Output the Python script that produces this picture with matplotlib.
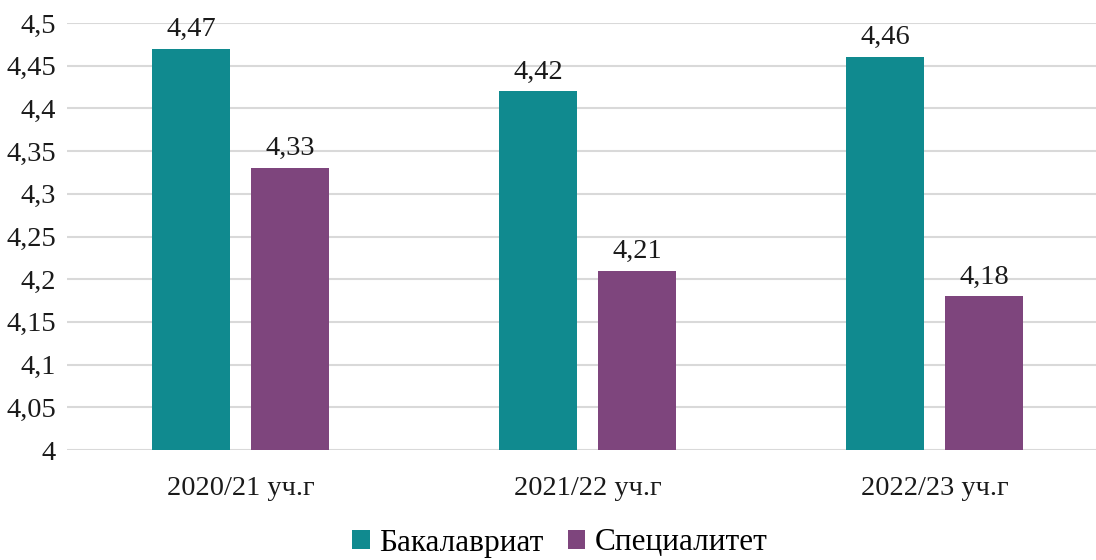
import numpy as np
import matplotlib.pyplot as plt
from matplotlib.ticker import MultipleLocator, FuncFormatter

plt.rcParams['font.family'] = ['Liberation Serif', 'DejaVu Serif']

categories = ['2020/21 уч.г', '2021/22 уч.г', '2022/23 уч.г']
series_names = ['Бакалавриат', 'Специалитет']
bachelor = [4.47, 4.42, 4.46]
specialist = [4.33, 4.21, 4.18]
colors = ['#108A8F', '#7E457D']

fig = plt.figure(figsize=(10.96, 5.6), dpi=100)
ax = fig.add_axes([67 / 1096, 1 - 450 / 560, 1041 / 1096, 427 / 560])

x = np.arange(len(categories))
w = 0.225
off = 0.1427
b1 = ax.bar(x - off, bachelor, w, color=colors[0], label=series_names[0], zorder=3)
b2 = ax.bar(x + off, specialist, w, color=colors[1], label=series_names[1], zorder=3)

fmt = lambda v: f'{v:.2f}'.replace('.', ',')
for bars in (b1, b2):
    for r in bars:
        v = r.get_height()
        ax.text(r.get_x() + r.get_width() / 2, v + 0.008, fmt(v),
                ha='center', va='bottom', fontsize=20.5, color='#1a1a1a')

ax.set_xlim(-0.5, 2.5)
ax.set_ylim(4, 4.5)
ax.yaxis.set_major_locator(MultipleLocator(0.05))
ax.yaxis.set_major_formatter(FuncFormatter(lambda v, p: f'{v:.2f}'.rstrip('0').rstrip('.').replace('.', ',')))
ax.set_xticks(x)
ax.set_xticklabels(categories)
ax.tick_params(axis='both', length=0, labelsize=20.5, colors='#1a1a1a')
ax.tick_params(axis='y', pad=8)
ax.tick_params(axis='x', pad=19)
ax.grid(axis='y', color='#D9D9D9', linewidth=1.5, zorder=0)
for s in ax.spines.values():
    s.set_visible(False)

fig.legend(loc='center', bbox_to_anchor=(560 / 1096, 1 - 543 / 560), ncol=2, frameon=False,
           fontsize=22.5, handlelength=0.55, handleheight=0.55, handletextpad=0.3, columnspacing=0.8)

fig.savefig('out.png', dpi=100)
